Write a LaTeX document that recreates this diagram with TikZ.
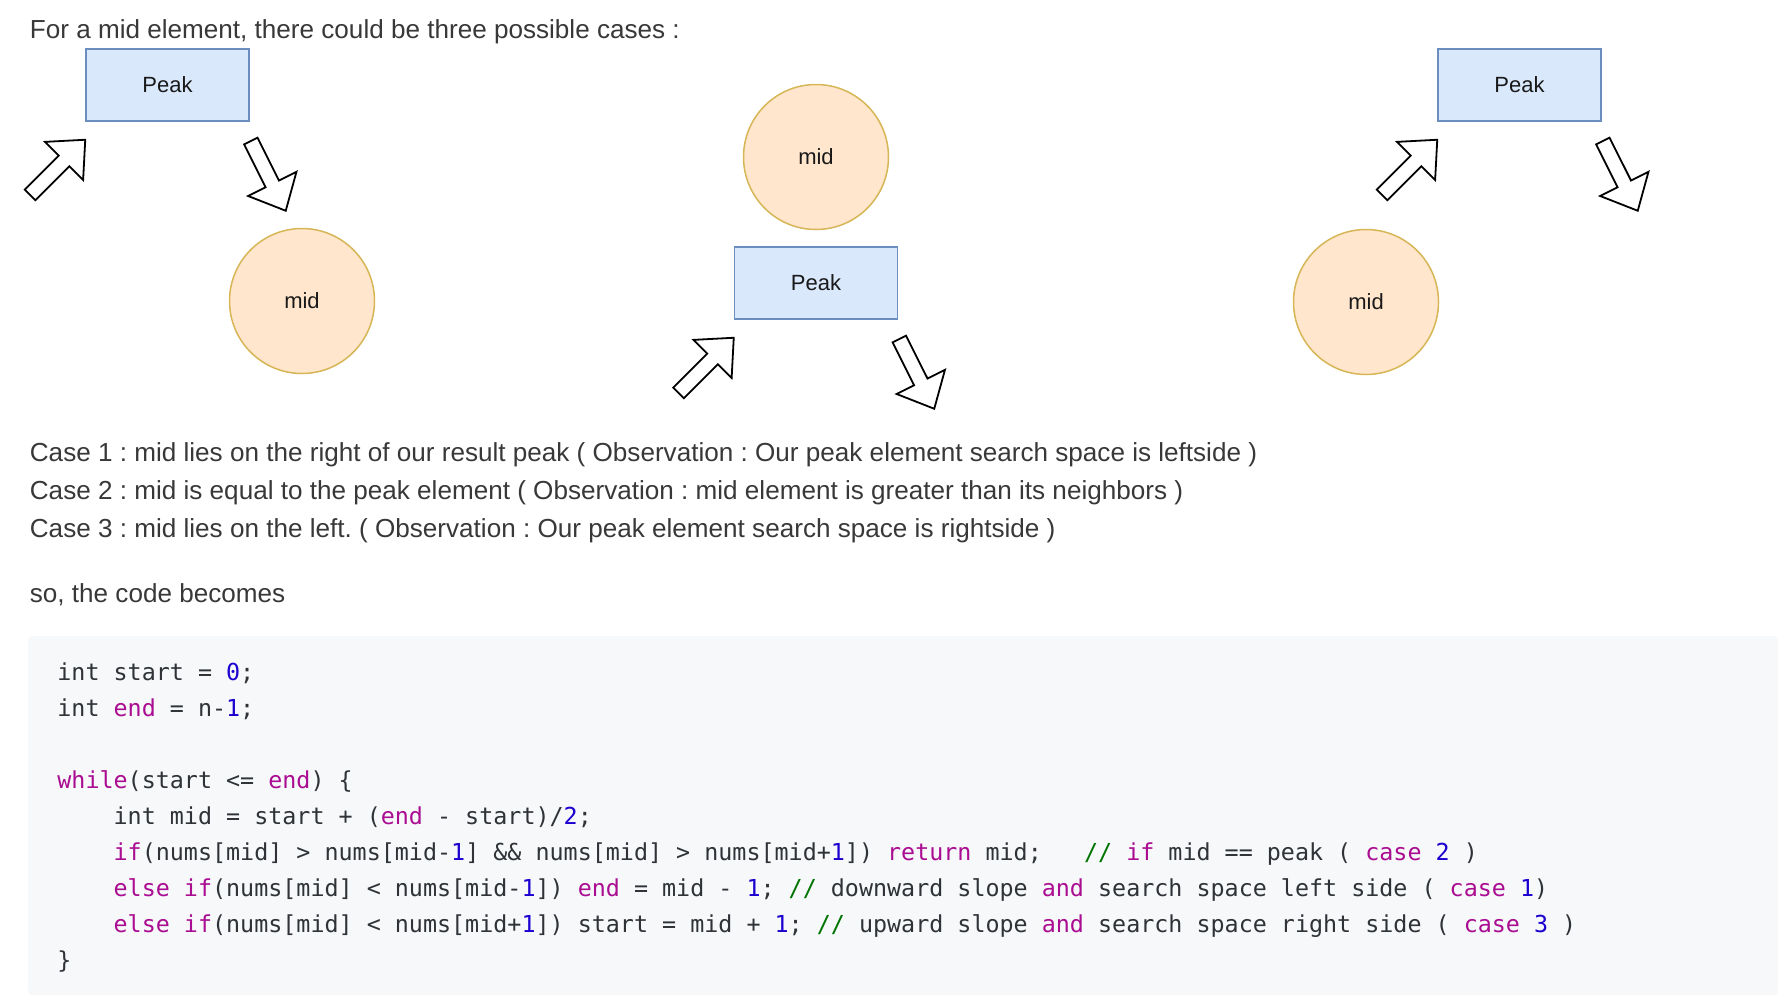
\documentclass[tikz,border=0pt]{standalone}
\usepackage{fontspec}
\setmainfont{Liberation Sans}
\newfontfamily\codefont{DejaVu Sans Mono}
\usepackage{xcolor}
\usetikzlibrary{calc}

\definecolor{bodytext}{HTML}{383838}
\definecolor{codetext}{HTML}{2F3337}
\definecolor{codebg}{HTML}{F6F8FA}
\definecolor{kwcol}{HTML}{AA0D91}
\definecolor{numcol}{HTML}{1C00CF}
\definecolor{comcol}{HTML}{007400}
\definecolor{peakfill}{HTML}{DAE8FC}
\definecolor{peakdraw}{HTML}{6C8EBF}
\definecolor{midfill}{HTML}{FFE6CC}
\definecolor{middraw}{HTML}{D6B656}

\newcommand{\ckw}[1]{\textcolor{kwcol}{#1}}
\newcommand{\cnum}[1]{\textcolor{numcol}{#1}}
\newcommand{\ccom}[1]{\textcolor{comcol}{#1}}

\tikzset{
  slopearrow/.pic={
    \draw[line width=0.9pt, line join=miter, fill=white]
      (-78,-7.5) -- (-30,-7.5) -- (-30,-27) -- (0,0) -- (-30,27) -- (-30,7.5) -- (-78,7.5) -- cycle;
  }
}

\frenchspacing
\begin{document}
\begin{tikzpicture}[
    x=0.5pt, y=-0.5pt,
    peakbox/.style={rectangle, draw=peakdraw, fill=peakfill, line width=0.75pt, minimum width=81.5pt, minimum height=36pt, inner sep=0pt, font=\fontsize{11}{12}\selectfont, text=black!90},
    midcircle/.style={circle, draw=middraw, fill=midfill, line width=0.75pt, minimum size=72.5pt, inner sep=0pt, font=\fontsize{11}{12}\selectfont, text=black!90},
    textline/.style={anchor=base west, inner sep=0pt, font=\fontsize{13.05}{15}\selectfont, text=bodytext},
    codeline/.style={anchor=base west, inner sep=0pt, font=\codefont\fontsize{11.68}{14}\selectfont, text=codetext},
]
\useasboundingbox (0,0) rectangle (1778,1002);

% ---- Intro ----
\node[textline] (intro) at (29.5,38) {For a mid element, there could be three possible cases :};

% ---- Case 1 : peak on the left ----
\node[peakbox] (peakA) at (167.5,85) {Peak};
\node[midcircle] (midA) at (302,301) {mid};
\pic[rotate=45] (upA) at ($(peakA.south west)+(0,18)$) {slopearrow};
\pic[rotate=-63.4] (downA) at ($(peakA.south east)+(36,89)$) {slopearrow};

% ---- Case 2 : mid is the peak ----
\node[midcircle] (midB) at (816,157) {mid};
\node[peakbox] (peakB) at (816,283) {Peak};
\pic[rotate=45] (upB) at ($(peakB.south west)+(0,18)$) {slopearrow};
\pic[rotate=-63.4] (downB) at ($(peakB.south east)+(36,89)$) {slopearrow};

% ---- Case 3 : peak on the right ----
\node[peakbox] (peakC) at (1519.5,85) {Peak};
\node[midcircle] (midC) at (1366,302) {mid};
\pic[rotate=45] (upC) at ($(peakC.south west)+(0,18)$) {slopearrow};
\pic[rotate=-63.4] (downC) at ($(peakC.south east)+(36,89)$) {slopearrow};

% ---- Notes ----
\node[textline] (noteA) at (29.5,461.5) {Case 1 : mid lies on the right of our result peak ( Observation : Our peak element search space is leftside )};
\node[textline] (noteB) at (29.5,499.5) {Case 2 : mid is equal to the peak element ( Observation : mid element is greater than its neighbors )};
\node[textline] (noteC) at (29.5,537.5) {Case 3 : mid lies on the left. ( Observation : Our peak element search space is rightside )};
\node[textline] (lead) at (29.5,602) {so, the code becomes};

% ---- Code block ----
\fill[codebg, rounded corners=2pt] (28,636) rectangle (1778,995);
\node[codeline] (cl1) at (57,680) {int start = \cnum{0};};
\node[codeline] (cl2) at (57,716) {int \ckw{end} = n-\cnum{1};};
\node[codeline] (cl3) at (57,788) {\ckw{while}(start <= \ckw{end}) \{};
\node[codeline] (cl4) at (57,824) {\ \ \ \ int mid = start + (\ckw{end} - start)/\cnum{2};};
\node[codeline] (cl5) at (57,860) {\ \ \ \ \ckw{if}(nums[mid] > nums[mid-\cnum{1}] \&\& nums[mid] > nums[mid+\cnum{1}]) \ckw{return} mid;\ \ \ \ccom{//} \ckw{if} mid == peak ( \ckw{case} \cnum{2} )};
\node[codeline] (cl6) at (57,896) {\ \ \ \ \ckw{else} \ckw{if}(nums[mid] < nums[mid-\cnum{1}]) \ckw{end} = mid - \cnum{1}; \ccom{//} downward slope \ckw{and} search space left side ( \ckw{case} \cnum{1})};
\node[codeline] (cl7) at (57,932) {\ \ \ \ \ckw{else} \ckw{if}(nums[mid] < nums[mid+\cnum{1}]) start = mid + \cnum{1}; \ccom{//} upward slope \ckw{and} search space right side ( \ckw{case} \cnum{3} )};
\node[codeline] (cl8) at (57,968) {\}};

\end{tikzpicture}
\end{document}
